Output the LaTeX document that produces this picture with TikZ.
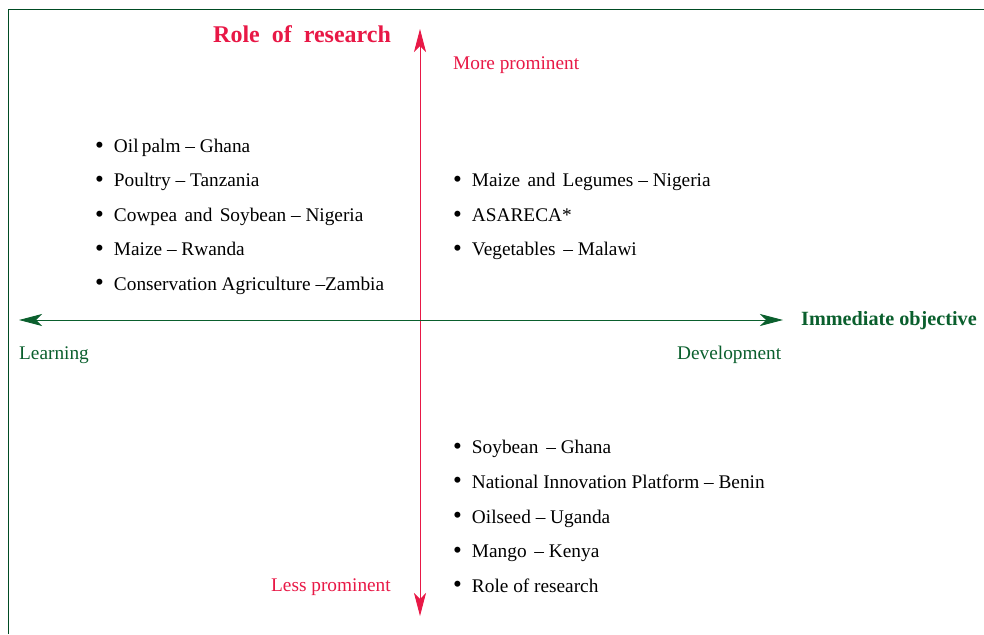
\documentclass[tikz,border=0pt]{standalone}
\usepackage{fontspec}
\setmainfont{Liberation Serif}
\usetikzlibrary{arrows.meta}
\definecolor{myred}{RGB}{232,24,70}
\definecolor{mygreen}{RGB}{10,95,45}
\definecolor{framegreen}{RGB}{0,75,35}
\tikzset{
  txt/.style={inner sep=0pt, anchor=base west, font=\fontsize{19.3}{23}\selectfont},
  item/.style={txt, text=black},
  redlbl/.style={txt, text=myred},
  greenlbl/.style={txt, text=mygreen},
  axisarrow/.style={line width=0.9pt, {Stealth[length=23pt,width=12pt,inset=6pt]}-{Stealth[length=23pt,width=12pt,inset=6pt]}},
}
\newcommand{\bul}{\raisebox{-0.6pt}{\scalebox{1.3}{\textbullet}}\hspace{10pt}}
\begin{document}
\begin{tikzpicture}[x=1pt,y=-1pt]
\useasboundingbox (0,0) rectangle (984,634);
% frame
\draw[framegreen, line width=0.9pt] (8.5,634) -- (8.5,9.3) -- (984,9.3);
% axes
\coordinate (vtop) at (420,29);
\coordinate (vbot) at (420,616);
\coordinate (hleft) at (19,320);
\coordinate (hright) at (783,320);
\draw[axisarrow, myred] (vtop) -- (vbot);
\draw[axisarrow, mygreen] (hleft) -- (hright);
% titles
\node[txt, text=myred, font=\fontsize{24}{28}\selectfont\bfseries] (title) at (213,42.3) {Role\hspace{6pt} of\hspace{6pt} research};
\node[txt, text=mygreen, font=\fontsize{20.2}{24}\selectfont\bfseries] (obj) at (801,325) {Immediate objective};
\node[redlbl] (more) at (453,69.7) {More prominent};
\node[redlbl] (less) at (271,591.3) {Less prominent};
\node[greenlbl] (learn) at (19,359) {Learning};
\node[greenlbl] (dev) at (677,359) {Development};
% top-left list
\node[item] (tl1) at (95,152.4) {\bul Oil\hspace{-1.5pt} palm – Ghana};
\node[item] (tl2) at (95,186.7) {\bul Poultry – Tanzania};
\node[item] (tl3) at (95,221.4) {\bul Cowpea\hspace{2.5pt} and\hspace{2.5pt} Soybean – Nigeria};
\node[item] (tl4) at (95,255.7) {\bul Maize – Rwanda};
\node[item] (tl5) at (95,290) {\bul Conservation Agriculture –Zambia};
% top-right list
\node[item] (tr1) at (453,186.7) {\bul Maize\hspace{2.5pt} and\hspace{2.5pt} Legumes – Nigeria};
\node[item] (tr2) at (453,221.4) {\bul ASARECA*};
\node[item] (tr3) at (453,255.7) {\bul Vegetables\hspace{3pt} – Malawi};
% bottom-right list
\node[item] (br1) at (453,453.4) {\bul Soybean\hspace{3pt} – Ghana};
\node[item] (br2) at (453,488) {\bul National Innovation Platform – Benin};
\node[item] (br3) at (453,523) {\bul Oilseed – Uganda};
\node[item] (br4) at (453,557.7) {\bul Mango\hspace{3pt} – Kenya};
\node[item] (br5) at (453,592) {\bul Role of research};
\end{tikzpicture}
\end{document}
